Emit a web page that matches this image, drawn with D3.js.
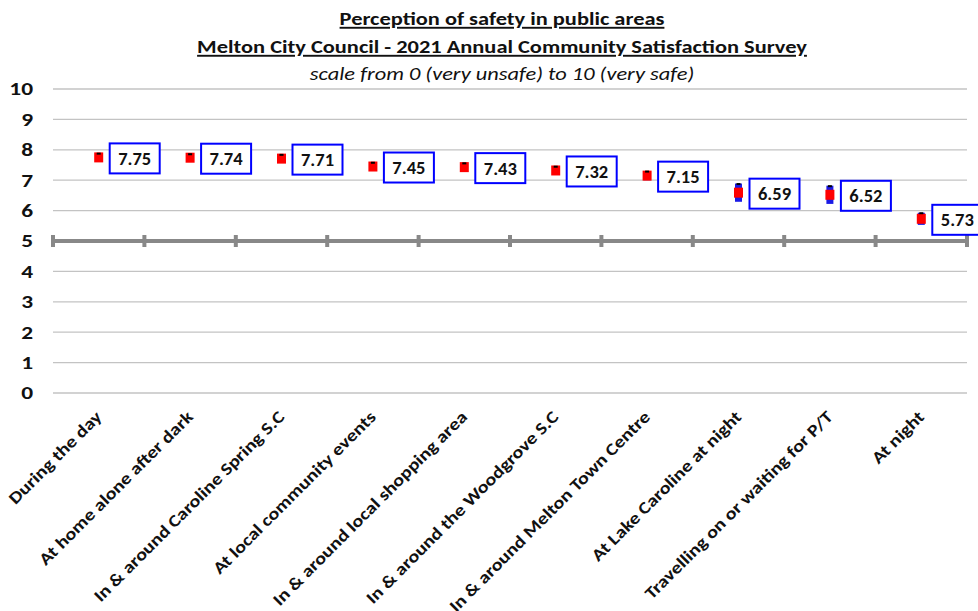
<!DOCTYPE html>
<html><head><meta charset="utf-8">
<script src="https://cdn.jsdelivr.net/npm/d3@7"></script>
<style>
html,body{margin:0;padding:0;background:#fff;}
svg{display:block;font-family:Carlito,Calibri,Lato,"Open Sans",sans-serif;}
</style></head>
<body>
<script>
const categories = ["During the day","At home alone after dark","In & around Caroline Spring S.C","At local community events","In & around local shopping area","In & around the Woodgrove S.C","In & around Melton Town Centre","At Lake Caroline at night","Travelling on or waiting for P/T","At night"];
const values = [7.75,7.74,7.71,7.45,7.43,7.32,7.15,6.59,6.52,5.73];
const errors = [0.14,0.13,0.14,0.14,0.14,0.14,0.15,0.3,0.3,0.2];
const yTicks = [0,1,2,3,4,5,6,7,8,9,10];
const titleLines = ["Perception of safety in public areas","Melton City Council - 2021 Annual Community Satisfaction Survey"];
const subtitle = "scale from 0 (very unsafe) to 10 (very safe)";

const W = 978, H = 611;
const svg = d3.select("body").append("svg").attr("width",W).attr("height",H);
const x = d3.scaleBand().domain(categories).range([53,967]);
const y = d3.scaleLinear().domain([0,10]).range([393,89]);

// titles (slightly widened glyphs to match the reference's wide rendering)
function title(txt, yy, opts){
  const t = svg.append("text").attr("transform",`translate(502,${yy}) scale(1.18,1)`)
    .attr("text-anchor","middle").attr("font-size",19).attr("fill","#111").text(txt);
  if(opts.bold) t.attr("font-weight","bold");
  if(opts.italic) t.attr("font-style","italic");
  if(opts.underline) t.attr("text-decoration","underline");
}
title(titleLines[0], 25, {bold:true, underline:true});
title(titleLines[1], 53, {bold:true, underline:true});
title(subtitle, 80, {italic:true});

// gridlines
const grid = svg.append("g");
grid.selectAll("line").data(yTicks.filter(d=>d!==5)).join("line")
  .attr("x1",53).attr("x2",967).attr("y1",d=>y(d)).attr("y2",d=>y(d))
  .attr("stroke","#c3c3c3").attr("stroke-width",1.3);

// y axis labels
svg.append("g").selectAll("text").data(yTicks).join("text")
  .attr("transform",d=>`translate(33,${y(d)}) scale(1.3,1)`).attr("dy","0.36em").attr("text-anchor","end")
  .attr("font-weight","bold").attr("font-size",18).attr("fill","#111").text(d=>d);

// x axis crossing at 5
const axisG = svg.append("g").attr("transform",`translate(0,${y(5)})`);
const xAxis = d3.axisBottom(x).tickSize(0).tickFormat("");
axisG.call(xAxis);
axisG.select(".domain").remove();
axisG.append("line").attr("x1",53).attr("x2",967).attr("stroke","#888").attr("stroke-width",4);
const bounds = categories.map(c=>x(c)).concat([x.range()[1]]);
axisG.selectAll(".bt").data(bounds).join("line").attr("class","bt")
  .attr("x1",d=>d).attr("x2",d=>d).attr("y1",-6).attr("y2",6)
  .attr("stroke","#888").attr("stroke-width",4);

// x labels
svg.append("g").selectAll("text").data(categories).join("text")
  .attr("text-anchor","end").attr("font-weight","bold").attr("font-size",17).attr("fill","#111")
  .attr("transform",d=>`translate(${x(d)+x.bandwidth()/2+4},${418}) rotate(-45) scale(1.19,1)`)
  .text(d=>d);

// points
const pts = svg.append("g").selectAll("g").data(categories).join("g")
  .attr("transform",d=>`translate(${x(d)+x.bandwidth()/2},0)`);
pts.append("rect").attr("x",-3.5).attr("width",7)
  .attr("y",(d,i)=>y(values[i]+errors[i])).attr("height",(d,i)=>y(values[i]-errors[i])-y(values[i]+errors[i]))
  .attr("fill","#1a1ae6");
pts.append("rect").attr("x",-4.5).attr("width",9).attr("y",(d,i)=>y(values[i])-5).attr("height",10)
  .attr("fill","#ff0000");
pts.append("line").attr("x1",-2).attr("x2",2)
  .attr("y1",(d,i)=>y(values[i]+errors[i])+0.5).attr("y2",(d,i)=>y(values[i]+errors[i])+0.5)
  .attr("stroke","#000").attr("stroke-width",2);

// labels
const lab = pts.append("g").attr("transform",(d,i)=>`translate(11,${y(values[i])+1})`);
lab.append("rect").attr("x",0).attr("y",-15).attr("width",50).attr("height",30)
  .attr("fill","#fff").attr("stroke","#0000ff").attr("stroke-width",2);
lab.append("text").attr("x",25).attr("y",0).attr("dy","0.36em").attr("text-anchor","middle")
  .attr("font-weight","bold").attr("font-size",18.5).attr("fill","#111").text((d,i)=>values[i].toFixed(2));
</script>
</body></html>
